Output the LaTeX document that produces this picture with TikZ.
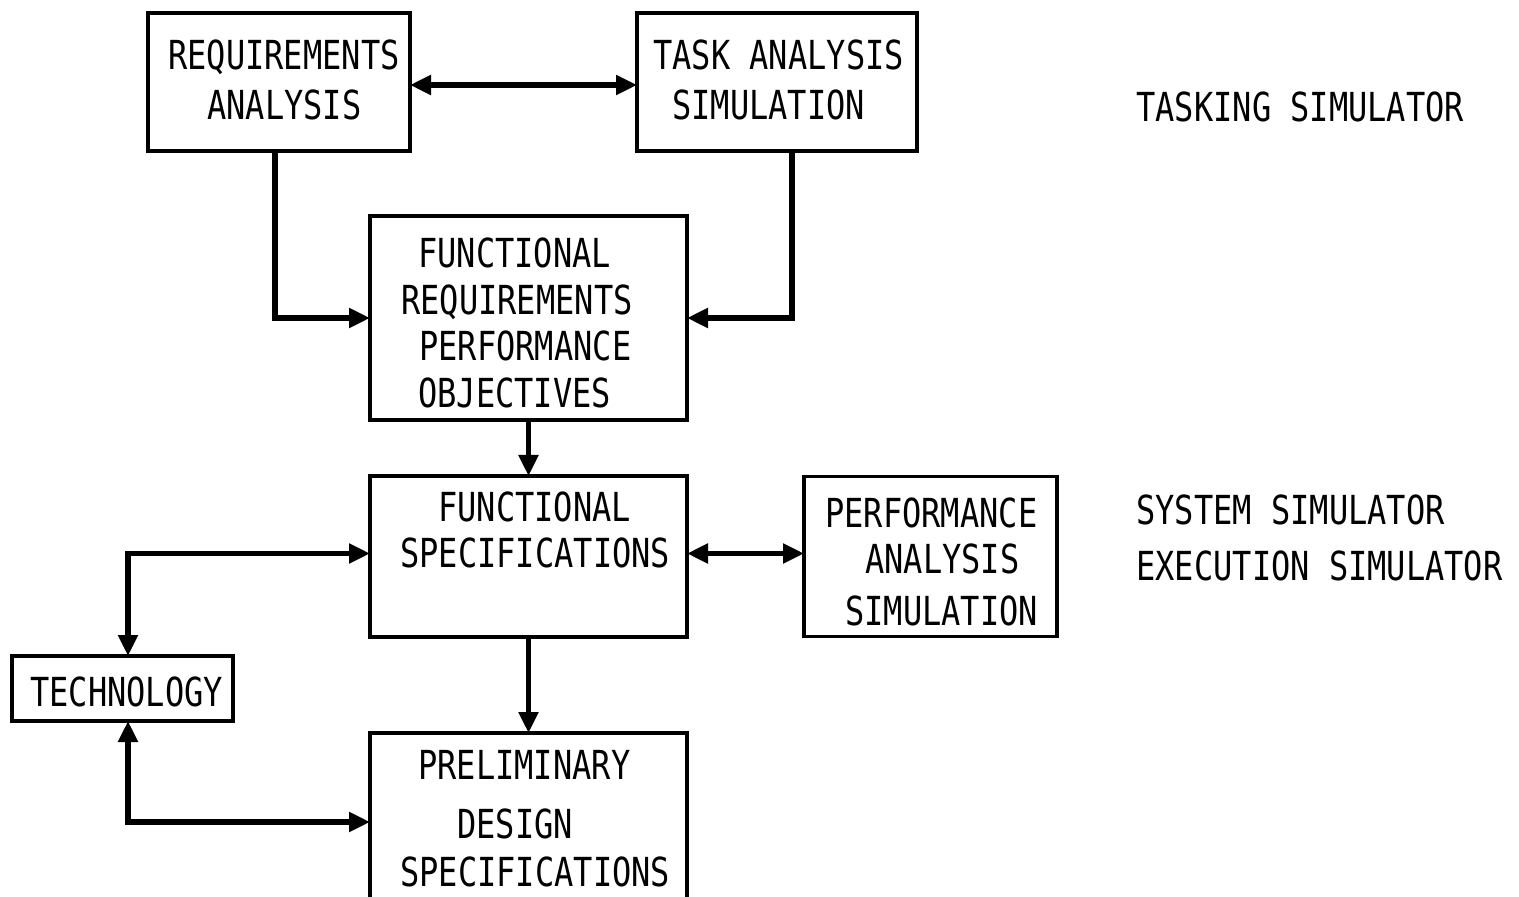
\documentclass[tikz,border=0pt]{standalone}
\usepackage{fontspec}
\newfontfamily\df[FakeStretch=0.8]{DejaVu Sans Mono}
\usetikzlibrary{arrows.meta}
\begin{document}
\begin{tikzpicture}[x=0.5pt,y=-0.5pt,
  box/.style={draw,line width=1.7pt,inner sep=0pt,outer sep=0pt},
  arr/.style={line width=2.8pt,line join=miter,
    arrows={-Triangle[length=10.5pt,width=9.5pt]}},
  darr/.style={line width=2.8pt,line join=miter,
    arrows={Triangle[length=10.5pt,width=9.5pt]-Triangle[length=10.5pt,width=9.5pt]}},
  txt/.style={anchor=base west,inner sep=0pt,font=\df\fontsize{20}{24}\selectfont}]
\useasboundingbox (0,0) rectangle (1519,897);
\clip (0,0) rectangle (1519,897);
% boxes
\node[box,minimum width=131pt,minimum height=69pt] (ra) at (279,82) {};
\node[box,minimum width=140pt,minimum height=69pt] (ta) at (777,82) {};
\node[box,minimum width=158.5pt,minimum height=102pt] (fr) at (528.5,318) {};
\node[box,minimum width=158.5pt,minimum height=80.5pt] (fs) at (528.5,556.5) {};
\node[box,minimum width=126.5pt,minimum height=80pt] (pa) at (930.5,556.5) {};
\node[box,minimum width=110.5pt,minimum height=32.5pt] (tech) at (122.5,688.5) {};
\node[box,minimum width=158.5pt,minimum height=89pt] (pd) at (528.5,822) {};
% texts
\node[txt] (t1) at (168,70) {REQUIREMENTS};
\node[txt] (t2) at (207,120) {ANALYSIS};
\node[txt] (t3) at (653,70) {TASK ANALYSIS};
\node[txt] (t4) at (672,120) {SIMULATION};
\node[txt] (t5) at (1136,122) {TASKING SIMULATOR};
\node[txt] (t6) at (418,268) {FUNCTIONAL};
\node[txt] (t7) at (401,315) {REQUIREMENTS};
\node[txt] (t8) at (419,361) {PERFORMANCE};
\node[txt] (t9) at (418,408) {OBJECTIVES};
\node[txt] (t10) at (438,521) {FUNCTIONAL};
\node[txt] (t11) at (400,567) {SPECIFICATIONS};
\node[txt] (t12) at (825,527) {PERFORMANCE};
\node[txt] (t13) at (865,573) {ANALYSIS};
\node[txt] (t14) at (845,625) {SIMULATION};
\node[txt] (t15) at (1136,524) {SYSTEM SIMULATOR};
\node[txt] (t16) at (1136,580) {EXECUTION SIMULATOR};
\node[txt] (t17) at (30,706) {TECHNOLOGY};
\node[txt] (t18) at (418,779) {PRELIMINARY};
\node[txt] (t19) at (457,838) {DESIGN};
\node[txt] (t20) at (400,886) {SPECIFICATIONS};
% connectors
\draw[darr] ([yshift=-1.5pt]ra.east) -- ([yshift=-1.5pt]ta.west);
\draw[arr] ([xshift=-2pt]ra.south) |- (fr.west);
\draw[arr] ([xshift=7.5pt]ta.south) |- (fr.east);
\draw[arr] (fr.south) -- (fs.north);
\draw[darr] ([yshift=1.5pt]fs.east) -- ([yshift=1.5pt]pa.west);
\draw[darr] ([yshift=1.5pt]fs.west) -| ([xshift=2.75pt]tech.north);
\draw[darr] ([xshift=2.75pt]tech.south) |- (pd.west);
\draw[arr] (fs.south) -- (pd.north);
\end{tikzpicture}
\end{document}
